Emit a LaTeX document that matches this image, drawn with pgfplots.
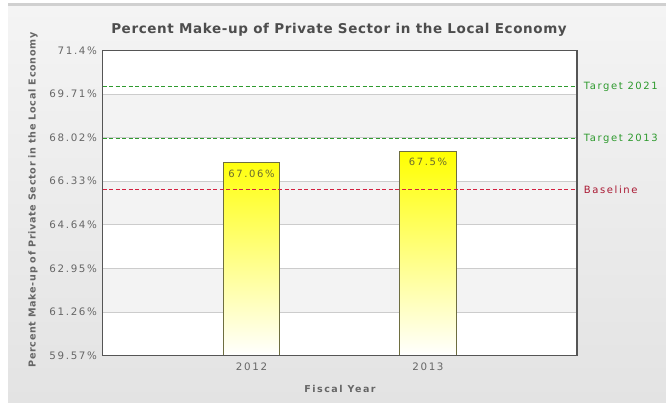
\documentclass[border=0pt]{standalone}
\usepackage{fontspec}
\setmainfont{DejaVu Sans}
\newfontfamily\lbl[LetterSpace=16]{DejaVu Sans}
\newfontfamily\ttl[LetterSpace=4.5]{DejaVu Sans}
\newfontfamily\ylb[LetterSpace=7]{DejaVu Sans}
\usepackage{pgfplots}
\pgfplotsset{compat=1.18}
\definecolor{bgtop}{HTML}{F4F4F4}
\definecolor{bgbot}{HTML}{E3E3E3}
\definecolor{topline}{HTML}{D0D0D0}
\definecolor{band}{HTML}{F3F3F3}
\definecolor{gridc}{HTML}{CCCCCC}
\definecolor{framec}{HTML}{555555}
\definecolor{txt}{HTML}{666666}
\definecolor{ttlc}{HTML}{4D4D4D}
\definecolor{tgreen}{HTML}{2E9A2E}
\definecolor{basered}{HTML}{D42040}
\definecolor{barline}{HTML}{6E6E40}
\definecolor{barlbl}{HTML}{6A6A30}
\begin{document}
\begin{tikzpicture}[x=1pt,y=1pt]
\useasboundingbox (0,0) rectangle (666,403);
\fill[white] (0,0) rectangle (666,403);
\shade[top color=bgtop, bottom color=bgbot] (8,0) rectangle (666,398);
\fill[topline] (8,397) rectangle (666,399.5);
\node[font=\ttl\bfseries\fontsize{13.5}{15}\selectfont, text=ttlc] at (339,373) {Percent Make-up of Private Sector in the Local Economy};
\node[font=\ylb\bfseries\fontsize{9.6}{11}\selectfont, text=txt, rotate=90] at (33,203) {Percent Make-up of Private Sector in the Local Economy};
\node[font=\lbl\bfseries\fontsize{9.5}{11}\selectfont, text=txt] at (340,14) {Fiscal Year};
\begin{axis}[
  at={(102.5pt,47.5pt)}, anchor=south west,
  scale only axis, width=474.5pt, height=305pt,
  xmin=-0.845, xmax=1.845,
  ymin=0, ymax=11.83,
  y filter/.expression={y-59.57},
  xtick={0,1}, xticklabels={2012,2013},
  ytick={0,1.69,3.38,5.07,6.76,8.45,10.14,11.83},
  yticklabels={59.57\%,61.26\%,62.95\%,64.64\%,66.33\%,68.02\%,69.71\%,71.4\%},
  major tick length=0pt,
  axis background/.style={fill=white},
  axis line style={framec, line width=1.8pt},
  clip=false,
  tick label style={font=\lbl\fontsize{10.3}{12}\selectfont, text=txt},
  yticklabel style={anchor=east, xshift=-2pt},
  xticklabel style={yshift=-4pt},
]
\fill[band] (rel axis cs:0,1/7) rectangle (rel axis cs:1,2/7);
\fill[band] (rel axis cs:0,3/7) rectangle (rel axis cs:1,4/7);
\fill[band] (rel axis cs:0,5/7) rectangle (rel axis cs:1,6/7);
\pgfplotsinvokeforeach{1,...,6}{
  \draw[gridc, line width=0.8pt] (rel axis cs:0,#1/7) -- (rel axis cs:1,#1/7);
}
\addplot[ybar, bar width=56.5pt, draw=barline, line width=1pt, top color=yellow, bottom color=white,
  nodes near coords, point meta=explicit symbolic,
  every node near coord/.append style={anchor=center, yshift=-11pt, font=\lbl\fontsize{10}{12}\selectfont, text=barlbl}]
  coordinates {(0,67.06) [67.06\%] (1,67.5) [67.5\%]};
\addplot[draw=basered, line width=1.1pt, dash pattern=on 4pt off 2.5pt, mark=none]
  coordinates {(-0.845,66.0) (1.845,66.0)} node[pos=1, anchor=west, xshift=3pt, font=\lbl\fontsize{10}{12}\selectfont, text=basered!80!black] {Baseline};
\addplot[draw=tgreen, line width=0.9pt, dash pattern=on 4pt off 2.5pt, mark=none]
  coordinates {(-0.845,70.0) (1.845,70.0)} node[pos=1, anchor=west, xshift=3pt, font=\lbl\fontsize{10}{12}\selectfont, text=tgreen] {Target 2021};
\addplot[draw=tgreen, line width=0.9pt, dash pattern=on 4pt off 2.5pt, mark=none]
  coordinates {(-0.845,67.98) (1.845,67.98)} node[pos=1, anchor=west, xshift=3pt, font=\lbl\fontsize{10}{12}\selectfont, text=tgreen] {Target 2013};
\draw[framec, line width=1.8pt] (rel axis cs:0,0) rectangle (rel axis cs:1,1);
\end{axis}
\end{tikzpicture}
\end{document}
